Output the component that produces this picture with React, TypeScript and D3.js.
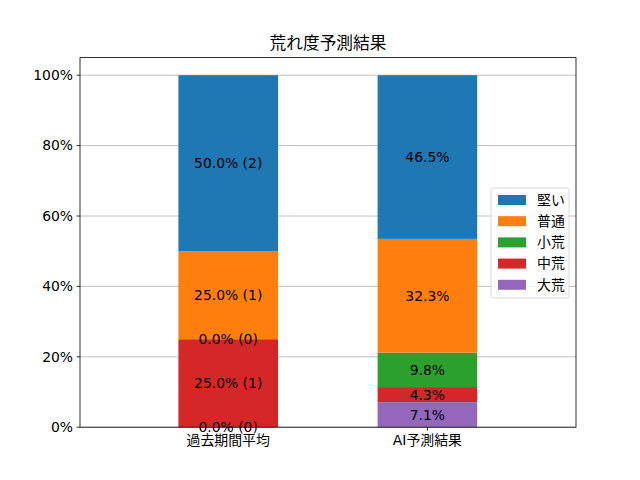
import * as d3 from "d3";

// ── Data ──────────────────────────────────────────────────────
const CATEGORIES = ["過去期間平均", "AI予測結果"];
const SERIES = ["大荒", "中荒", "小荒", "普通", "堅い"]; // bottom → top
const COLORS = ["#9467bd", "#d62728", "#2ca02c", "#ff7f0e", "#1f77b4"];
// percent per series, per category
const PCT_PAST = [0.0, 25.0, 0.0, 25.0, 50.0];
const PCT_AI = [7.1, 4.3, 9.8, 32.3, 46.5];
const COUNT_PAST = [0, 1, 0, 1, 2];
const Y_TICKS = [0, 20, 40, 60, 80, 100];

const W = 640;
const H = 480;
const M = { left: 80, right: 576, top: 57.6, bottom: 427.2 };
const FONT = "'DejaVu Sans', 'Noto Sans CJK JP', sans-serif";

export default function App() {
  const x = d3.scaleLinear().domain([-0.744, 1.746]).range([M.left, M.right]);
  const y = d3.scaleLinear().domain([0, 105]).range([M.bottom, M.top]);
  const bw = x(0.5) - x(0);

  const rows = [
    { values: PCT_PAST, label: (i: number) => `${PCT_PAST[i].toFixed(1)}% (${COUNT_PAST[i]})` },
    { values: PCT_AI, label: (i: number) => `${PCT_AI[i].toFixed(1)}%` },
  ];

  const legendOrder = [4, 3, 2, 1, 0];
  const lgX = 491;
  const lgY = 188;

  return (
    <svg width={W} height={H} style={{ position: "absolute", left: 0, top: 0, fontFamily: FONT }}>
      <rect width={W} height={H} fill="#fff" />
      <text x={(M.left + M.right) / 2} y={49} textAnchor="middle" fontSize={16.7}>
        荒れ度予測結果
      </text>

      {/* gridlines */}
      {Y_TICKS.map((t) => (
        <line key={`g${t}`} x1={M.left} x2={M.right} y1={y(t)} y2={y(t)} stroke="#b0b0b0" strokeWidth={0.8} />
      ))}

      {/* bars */}
      {rows.map((r, ci) => {
        const stack = d3.cumsum(r.values);
        return (
          <g key={ci}>
            {r.values.map((v, si) => {
              const y0 = stack[si] - v;
              const y1 = stack[si];
              return (
                <rect key={si} x={x(ci) - bw / 2} width={bw} y={y(y1)} height={y(y0) - y(y1)} fill={COLORS[si]} />
              );
            })}
            {r.values.map((v, si) => {
              const mid = stack[si] - v / 2;
              return (
                <text key={`t${si}`} x={x(ci)} y={y(mid)} dy="0.35em" textAnchor="middle" fontSize={13.9}>
                  {r.label(si)}
                </text>
              );
            })}
          </g>
        );
      })}

      {/* axes frame */}
      <rect x={M.left} y={M.top} width={M.right - M.left} height={M.bottom - M.top} fill="none" stroke="#000" strokeWidth={0.8} />

      {/* y ticks */}
      {Y_TICKS.map((t) => (
        <g key={`y${t}`}>
          <line x1={M.left - 3.5} x2={M.left} y1={y(t)} y2={y(t)} stroke="#000" strokeWidth={0.8} />
          <text x={M.left - 7} y={y(t)} dy="0.35em" textAnchor="end" fontSize={13.9}>
            {`${t}%`}
          </text>
        </g>
      ))}

      {/* x ticks */}
      {CATEGORIES.map((c, i) => (
        <g key={c}>
          <line x1={x(i)} x2={x(i)} y1={M.bottom} y2={M.bottom + 3.5} stroke="#000" strokeWidth={0.8} />
          <text x={x(i)} y={M.bottom + 18} textAnchor="middle" fontSize={13.9}>
            {c}
          </text>
        </g>
      ))}

      {/* legend */}
      <rect x={lgX} y={lgY} width={78} height={110} rx={2} fill="#fff" fillOpacity={0.8} stroke="#d0d0d0" strokeWidth={0.8} />
      {legendOrder.map((si, k) => (
        <g key={`l${si}`} transform={`translate(${lgX + 7},${lgY + 12 + k * 21.2})`}>
          <rect x={0} y={-5} width={28} height={10} fill={COLORS[si]} />
          <text x={39} y={0} dy="0.35em" fontSize={13.9}>
            {SERIES[si]}
          </text>
        </g>
      ))}
    </svg>
  );
}
